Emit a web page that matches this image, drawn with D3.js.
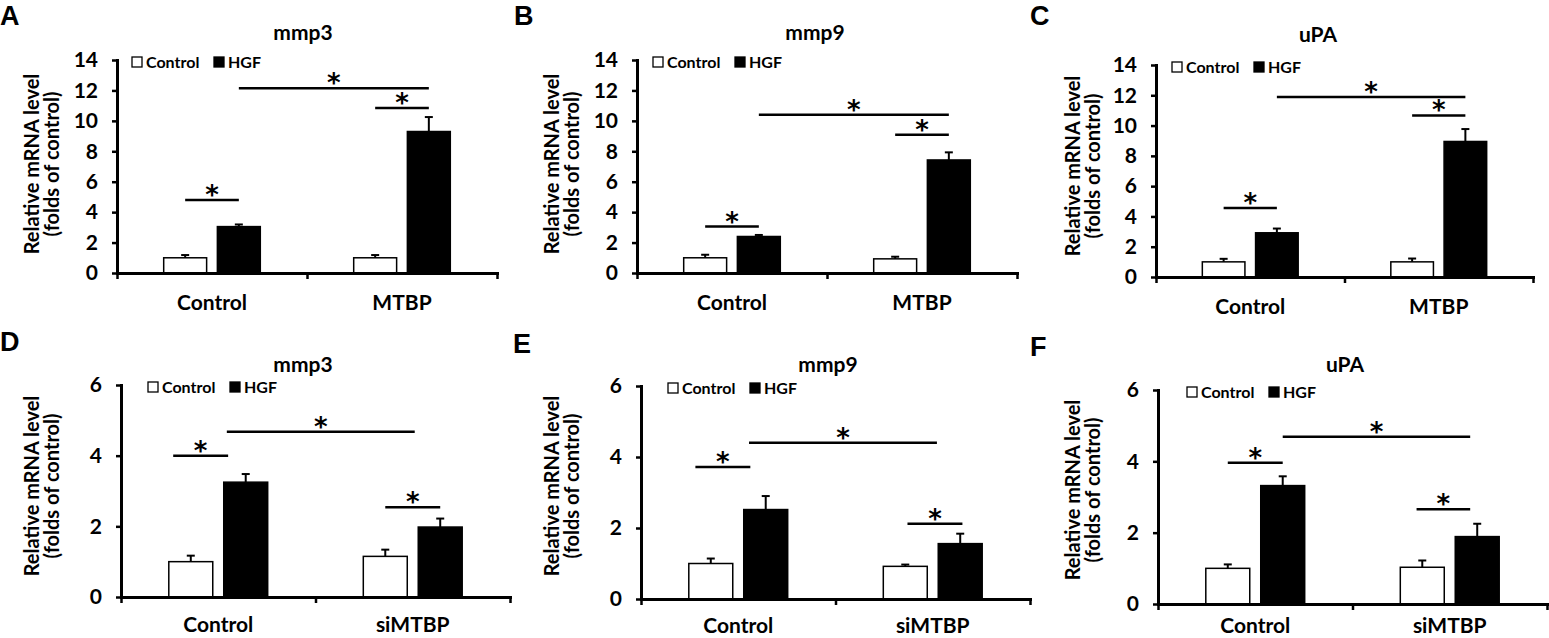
<!DOCTYPE html>
<html>
<head>
<meta charset="utf-8">
<script src="https://cdn.jsdelivr.net/npm/d3@7"></script>
<style>
body { margin: 0; background: #fff; }
svg text { font-family: Lato, "Open Sans", sans-serif; font-weight: 700; fill: #000; }
.letter { font-family: "Liberation Sans", Arial, sans-serif !important; }
.star { font-family: "DejaVu Sans", sans-serif !important; }
</style>
</head>
<body>
<svg width="1549" height="638"></svg>
<script>
// ---- data ----
var seriesNames = ['Control', 'HGF'];
var groupsOver = ['Control', 'MTBP'];
var groupsKnock = ['Control', 'siMTBP'];
var ticksOver = [0, 2, 4, 6, 8, 10, 12, 14];
var ticksKnock = [0, 2, 4, 6];
var panelLetters = ['A', 'B', 'C', 'D', 'E', 'F'];
var panelTitles = ['mmp3', 'mmp9', 'uPA', 'mmp3', 'mmp9', 'uPA'];

// mean [group][series] and upper error
var mmp3Over = [[1.0, 3.05], [1.0, 9.3]];
var mmp3OverErr = [[0.18, 0.14], [0.18, 0.95]];
var mmp9Over = [[1.0, 2.4], [0.93, 7.43]];
var mmp9OverErr = [[0.2, 0.1], [0.14, 0.5]];
var upaOver = [[1.0, 2.92], [1.0, 8.95]];
var upaOverErr = [[0.2, 0.28], [0.22, 0.82]];
var mmp3Knock = [[1.0, 3.25], [1.15, 1.98]];
var mmp3KnockErr = [[0.17, 0.23], [0.19, 0.24]];
var mmp9Knock = [[1.0, 2.52], [0.92, 1.56]];
var mmp9KnockErr = [[0.14, 0.38], [0.05, 0.28]];
var upaKnock = [[1.0, 3.32], [1.03, 1.89]];
var upaKnockErr = [[0.11, 0.26], [0.19, 0.36]];

// significance brackets: ends are [group, series, shift in bar widths], y in data units
var mmp3OverSig = [{a: [0, 0, 0], b: [0, 1, 0], y: 4.8}, {a: [1, 0, 0], b: [1, 1, 0], y: 10.85}, {a: [0, 1, 0], b: [1, 1, 0], y: 12.15}];
var mmp9OverSig = [{a: [0, 0, 0], b: [0, 1, 0], y: 3.05}, {a: [1, 0, 0], b: [1, 1, 0], y: 9.08}, {a: [0, 1, 0], b: [1, 1, 0], y: 10.4}];
var upaOverSig = [{a: [0, 0, 0], b: [0, 1, 0], y: 4.55}, {a: [1, 0, 0], b: [1, 1, 0], y: 10.67}, {a: [0, 1, 0], b: [1, 1, 0], y: 11.88}];
var mmp3KnockSig = [{a: [0, 0, -0.4], b: [0, 1, -0.4], y: 4.0}, {a: [1, 0, 0], b: [1, 1, 0], y: 2.54}, {a: [0, 1, -0.43], b: [1, 1, -0.58], y: 4.68}];
var mmp9KnockSig = [{a: [0, 0, -0.35], b: [0, 1, -0.35], y: 3.72}, {a: [1, 0, 0.05], b: [1, 1, 0.05], y: 2.12}, {a: [0, 1, -0.38], b: [1, 1, -0.53], y: 4.4}];
var upaKnockSig = [{a: [0, 0, 0], b: [0, 1, 0], y: 3.96}, {a: [1, 0, -0.13], b: [1, 1, -0.16], y: 2.66}, {a: [0, 1, 0], b: [1, 1, -0.16], y: 4.69}];

// ---- layout (pixel frames of each panel) ----
var frames = [
    {x0: 117, x1: 497, y0: 60, y1: 273, tx: 303, ty: 40, lx: 0, ly: 25, ax: 32, ay: 164, cy: 37},
    {x0: 637, x1: 1017, y0: 60, y1: 273, tx: 815, ty: 40, lx: 514, ly: 25, ax: 552, ay: 164, cy: 37},
    {x0: 1156, x1: 1533, y0: 65, y1: 277, tx: 1318, ty: 42, lx: 1030, ly: 25, ax: 1073, ay: 166, cy: 37},
    {x0: 121, x1: 510, y0: 385, y1: 597, tx: 303, ty: 372, lx: 0, ly: 351, ax: 32, ay: 486, cy: 35},
    {x0: 641, x1: 1030, y0: 386, y1: 599, tx: 828, ty: 372, lx: 513, ly: 353, ax: 552, ay: 486, cy: 34},
    {x0: 1158, x1: 1547, y0: 390, y1: 604, tx: 1345, ty: 372, lx: 1030, ly: 356, ax: 1073, ay: 490, cy: 29}
];

var panels = [
    {groups: groupsOver, ticks: ticksOver, vals: mmp3Over, errs: mmp3OverErr, sig: mmp3OverSig, legDx: 15},
    {groups: groupsOver, ticks: ticksOver, vals: mmp9Over, errs: mmp9OverErr, sig: mmp9OverSig, legDx: 16},
    {groups: groupsOver, ticks: ticksOver, vals: upaOver, errs: upaOverErr, sig: upaOverSig, legDx: 16},
    {groups: groupsKnock, ticks: ticksKnock, vals: mmp3Knock, errs: mmp3KnockErr, sig: mmp3KnockSig, legDx: 27},
    {groups: groupsKnock, ticks: ticksKnock, vals: mmp9Knock, errs: mmp9KnockErr, sig: mmp9KnockSig, legDx: 27},
    {groups: groupsKnock, ticks: ticksKnock, vals: upaKnock, errs: upaKnockErr, sig: upaKnockSig, legDx: 29}
];

var svg = d3.select('svg');
var colors = d3.scaleOrdinal().domain(seriesNames).range(['#fff', '#000']);

panels.forEach(function(p, i) {
    var f = frames[i];
    var g = svg.append('g');

    var xBand = d3.scaleBand().domain(p.groups).range([f.x0, f.x1]);
    var xSub = d3.scaleBand().domain(seriesNames).range([0, xBand.bandwidth()])
        .paddingInner(0.2).paddingOuter(0.87);
    var yScale = d3.scaleLinear().domain([0, d3.max(p.ticks)]).range([f.y1, f.y0]);

    var bw = xSub.bandwidth();
    function barX(gi, si) { return xBand(p.groups[gi]) + xSub(seriesNames[si]); }
    function barMid(gi, si, off) { return barX(gi, si) + bw / 2 + (off || 0) * bw; }

    // bars
    var rows = [];
    p.vals.forEach(function(r, gi) {
        r.forEach(function(v, si) { rows.push({gi: gi, si: si, v: v, e: p.errs[gi][si]}); });
    });

    g.selectAll('.bar').data(rows).enter().append('rect')
        .attr('class', 'bar')
        .attr('x', function(d) { return barX(d.gi, d.si); })
        .attr('y', function(d) { return yScale(d.v); })
        .attr('width', bw)
        .attr('height', function(d) { return yScale(0) - yScale(d.v); })
        .attr('fill', function(d) { return colors(seriesNames[d.si]); })
        .attr('stroke', '#000')
        .attr('stroke-width', 1.5);

    // upper error bars
    var eb = g.selectAll('.err').data(rows).enter().append('g').attr('class', 'err')
        .attr('stroke', '#000').attr('stroke-width', 2);
    eb.append('line')
        .attr('x1', function(d) { return barMid(d.gi, d.si); })
        .attr('x2', function(d) { return barMid(d.gi, d.si); })
        .attr('y1', function(d) { return yScale(d.v); })
        .attr('y2', function(d) { return yScale(d.v + d.e); });
    eb.append('line')
        .attr('x1', function(d) { return barMid(d.gi, d.si) - 4; })
        .attr('x2', function(d) { return barMid(d.gi, d.si) + 4; })
        .attr('y1', function(d) { return yScale(d.v + d.e); })
        .attr('y2', function(d) { return yScale(d.v + d.e); });

    // significance brackets
    var sg = g.selectAll('.sig').data(p.sig).enter().append('g').attr('class', 'sig');
    sg.append('line')
        .attr('x1', function(d) { return barMid(d.a[0], d.a[1], d.a[2]); })
        .attr('x2', function(d) { return barMid(d.b[0], d.b[1], d.b[2]); })
        .attr('y1', function(d) { return yScale(d.y); })
        .attr('y2', function(d) { return yScale(d.y); })
        .attr('stroke', '#000').attr('stroke-width', 2.5);
    sg.append('text')
        .attr('class', 'star')
        .attr('x', function(d) { return (barMid(d.a[0], d.a[1], d.a[2]) + barMid(d.b[0], d.b[1], d.b[2])) / 2; })
        .attr('y', function(d) { return yScale(d.y) + 4; })
        .attr('text-anchor', 'middle')
        .style('font-size', '26px')
        .text('*');

    // y axis
    var yAxis = g.append('g')
        .attr('transform', 'translate(' + f.x0 + ',0)')
        .call(d3.axisLeft(yScale).tickValues(p.ticks).tickFormat(d3.format('d'))
            .tickSize(5).tickSizeOuter(0).tickPadding(14));
    yAxis.selectAll('text').style('font-size', '21px').style('font-family', 'Lato, sans-serif');

    // x axis with ticks on group boundaries
    var xEdge = d3.scaleLinear().domain([0, p.groups.length]).range([f.x0, f.x1]);
    g.append('g')
        .attr('transform', 'translate(0,' + f.y1 + ')')
        .call(d3.axisBottom(xEdge).tickValues(d3.range(p.groups.length + 1)).tickSize(6).tickSizeOuter(0).tickFormat(''));

    g.selectAll('.domain').attr('stroke-width', 3).attr('stroke-linecap', 'square');
    g.selectAll('.tick line').attr('stroke-width', 2.5);

    g.selectAll('.cat').data(p.groups).enter().append('text')
        .attr('class', 'cat')
        .attr('x', function(d) { return xBand(d) + xBand.bandwidth() / 2; })
        .attr('y', f.y1 + f.cy)
        .attr('text-anchor', 'middle')
        .style('font-size', '21px')
        .text(function(d) { return d; });

    // legend
    var leg = g.append('g').attr('transform', 'translate(' + (f.x0 + p.legDx) + ',' + (f.y0 + 2) + ')');
    var legX = [0, 82];
    seriesNames.forEach(function(s, si) {
        leg.append('rect')
            .attr('x', legX[si]).attr('y', -5)
            .attr('width', 10).attr('height', 10)
            .attr('fill', colors(s)).attr('stroke', '#000').attr('stroke-width', 1.3);
        leg.append('text')
            .attr('x', legX[si] + 14).attr('y', 6)
            .style('font-size', '16px')
            .text(s);
    });

    // title, y label, panel letter
    svg.append('text')
        .attr('x', f.tx).attr('y', f.ty)
        .attr('text-anchor', 'middle')
        .style('font-size', '21px')
        .text(panelTitles[i]);

    var yl = svg.append('text')
        .attr('transform', 'translate(' + f.ax + ',' + f.ay + ') rotate(-90)')
        .attr('text-anchor', 'middle')
        .style('font-size', '20px');
    yl.append('tspan').attr('x', 0).attr('y', 7).text('Relative mRNA level');
    yl.append('tspan').attr('x', 0).attr('y', 27).text('(folds of control)');

    svg.append('text')
        .attr('class', 'letter')
        .attr('x', f.lx).attr('y', f.ly)
        .style('font-size', '27px')
        .text(panelLetters[i]);
});
</script>
</body>
</html>
